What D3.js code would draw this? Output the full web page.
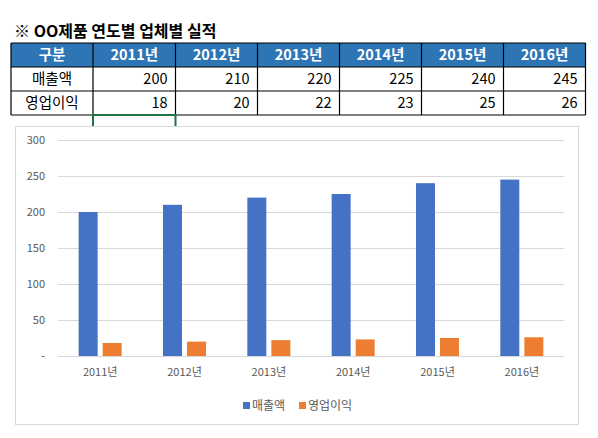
<!DOCTYPE html>
<html>
<head>
  <meta charset="utf-8">
  <script src="https://d3js.org/d3.v7.min.js"></script>
  <style>
    body { margin: 0; background: #fff; }
    text { font-family: "Noto Sans CJK KR", "Noto Sans", sans-serif; }
  </style>
</head>
<body>
  <div id="chart"></div>
  <script>
    var years = ["2011년", "2012년", "2013년", "2014년", "2015년", "2016년"];
    var seriesNames = ["매출액", "영업이익"];
    var sales = [200, 210, 220, 225, 240, 245];
    var profit = [18, 20, 22, 23, 25, 26];
    var yTicks = [0, 50, 100, 150, 200, 250, 300];
    var colors = ["#4472C4", "#ED7D31"];

    var svg = d3.select("#chart").append("svg")
      .attr("width", 598)
      .attr("height", 438);

    // title
    svg.append("text")
      .attr("x", 14)
      .attr("y", 37)
      .attr("font-size", 16)
      .attr("font-weight", "bold")
      .attr("fill", "#000")
      .text("※ OO제품 연도별 업체별 실적");

    // table
    var colX = [11, 93, 175.5, 257.5, 339.5, 421.5, 503.5, 585.5];
    var rowY = [43, 67, 91, 115];
    var rows = [["구분"].concat(years), [seriesNames[0]].concat(sales), [seriesNames[1]].concat(profit)];

    var table = svg.append("g");
    table.append("rect")
      .attr("x", colX[0]).attr("y", rowY[0])
      .attr("width", colX[7] - colX[0]).attr("height", rowY[1] - rowY[0])
      .attr("fill", "#2E75B6");

    rows.forEach(function(row, r) {
      row.forEach(function(cell, c) {
        var t = table.append("text")
          .attr("y", (rowY[r] + rowY[r + 1]) / 2 + 5)
          .attr("font-size", 14.5)
          .text(cell);
        if (r === 0) {
          t.attr("x", (colX[c] + colX[c + 1]) / 2).attr("text-anchor", "middle")
            .attr("fill", "#fff").attr("font-weight", "bold");
        } else if (c === 0) {
          t.attr("x", (colX[c] + colX[c + 1]) / 2).attr("text-anchor", "middle").attr("fill", "#000");
        } else {
          t.attr("x", colX[c + 1] - 8).attr("text-anchor", "end").attr("fill", "#000");
        }
      });
    });

    colX.forEach(function(x) {
      table.append("line")
        .attr("x1", x).attr("x2", x).attr("y1", rowY[0]).attr("y2", rowY[3])
        .attr("stroke", "#000").attr("stroke-width", 1.2);
    });
    rowY.forEach(function(y) {
      table.append("line")
        .attr("x1", colX[0]).attr("x2", colX[7]).attr("y1", y).attr("y2", y)
        .attr("stroke", "#000").attr("stroke-width", 1.2);
    });

    // selected cell (partly hidden by the chart)
    table.append("path")
      .attr("d", "M" + colX[1] + ",126V" + rowY[3] + "H" + colX[2] + "V126")
      .attr("fill", "none")
      .attr("stroke", "#217346")
      .attr("stroke-width", 2);

    // chart box
    svg.append("rect")
      .attr("x", 15.5).attr("y", 126.5)
      .attr("width", 563).attr("height", 298)
      .attr("fill", "#fff")
      .attr("stroke", "#d9d9d9");

    var y = d3.scaleLinear().domain([0, 300]).range([356, 140]);

    var x0 = d3.scaleBand()
      .domain(years)
      .range([58, 564])
      .paddingInner(0.49)
      .paddingOuter(0.245);

    var x1 = d3.scaleBand()
      .domain(seriesNames)
      .range([0, x0.bandwidth()])
      .paddingInner(0.21);

    var yAxis = svg.append("g")
      .attr("transform", "translate(58,0)")
      .call(d3.axisLeft(y)
        .tickValues(yTicks)
        .tickSize(-506)
        .tickPadding(13)
        .tickFormat(function(d) { return d === 0 ? "-" : d; }));
    yAxis.select(".domain").remove();
    yAxis.selectAll(".tick line").attr("stroke", "#d9d9d9");
    yAxis.selectAll(".tick text")
      .attr("fill", "#595959")
      .attr("font-size", 11)
      .style("font-family", "'Noto Sans CJK KR', sans-serif");

    var groups = svg.append("g").selectAll("g")
      .data(years)
      .enter().append("g")
      .attr("transform", function(d) { return "translate(" + x0(d) + ",0)"; });

    groups.selectAll("rect")
      .data(function(d, i) { return [sales[i], profit[i]]; })
      .enter().append("rect")
      .attr("x", function(d, j) { return x1(seriesNames[j]); })
      .attr("y", function(d) { return y(d); })
      .attr("width", x1.bandwidth())
      .attr("height", function(d) { return y(0) - y(d); })
      .attr("fill", function(d, j) { return colors[j]; });

    var xAxis = svg.append("g")
      .attr("transform", "translate(0,356)")
      .call(d3.axisBottom(x0).tickSize(0).tickPadding(12));
    xAxis.select(".domain").attr("stroke", "#d9d9d9");
    xAxis.selectAll(".tick text")
      .attr("fill", "#595959")
      .attr("font-size", 11)
      .style("font-family", "'Noto Sans CJK KR', sans-serif");

    // legend
    var legendX = [243, 299];
    var legend = svg.append("g");
    seriesNames.forEach(function(name, i) {
      legend.append("rect")
        .attr("x", legendX[i]).attr("y", 402)
        .attr("width", 7).attr("height", 7)
        .attr("fill", colors[i]);
      legend.append("text")
        .attr("x", legendX[i] + 9).attr("y", 410)
        .attr("font-size", 12)
        .attr("fill", "#595959")
        .text(name);
    });
  </script>
</body>
</html>
